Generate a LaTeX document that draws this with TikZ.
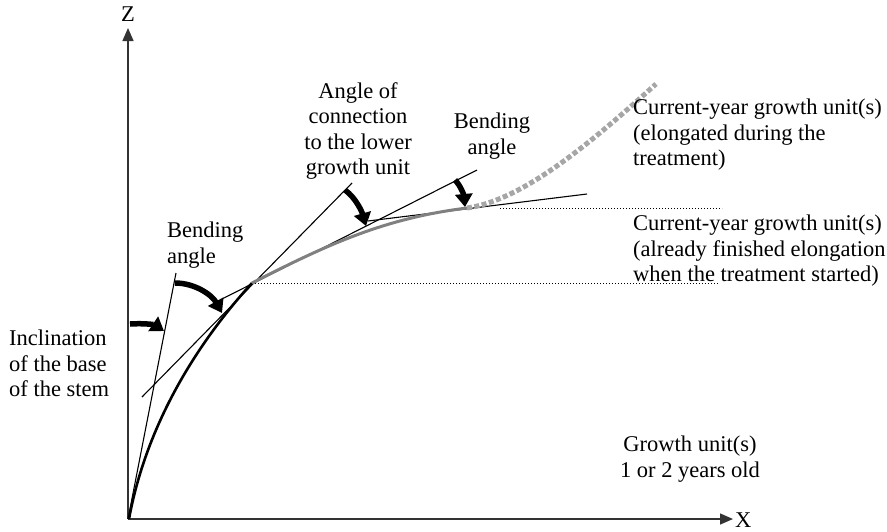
\documentclass[tikz,border=0pt]{standalone}
\usepackage{fontspec}
\setmainfont{Liberation Serif}
\usetikzlibrary{arrows.meta}
\begin{document}
\begin{tikzpicture}[x=1pt,y=-1pt,
  lbl/.style={inner sep=0pt, font=\fontsize{22.5}{25.5}\selectfont},
  axis/.style={draw=black!80, line width=1.4pt, -{Triangle[length=13pt,width=11pt]}},
  thinline/.style={line width=1.1pt},
  bigarrow/.style={line width=5.5pt, -{Triangle[length=13pt,width=17pt]}},
  guide/.style={line width=0.8pt, dash pattern=on 1pt off 2pt},
  stemold/.style={line width=2.6pt},
  stemcur/.style={draw=black!50, line width=3pt},
  stemnew/.style={draw=black!35, line width=5pt, dash pattern=on 5pt off 2.5pt}
]
\useasboundingbox (0,0) rectangle (887,531);
% key points
\coordinate (O) at (128,519);
\coordinate (S) at (129,519);
\coordinate (Ztip) at (128,28);
\coordinate (Xtip) at (733,519);
\coordinate (J1) at (252,283);
\coordinate (J2) at (467,208);
\coordinate (T) at (656,84);
% axes
\draw[axis] (O) -- (Ztip);
\draw[axis] (O) -- (Xtip);
\node[lbl] (Z) at (128,14) {Z};
\node[lbl, anchor=west] (X) at (735,520) {X};
% tangent lines
\coordinate (L1b) at (176,273);
\coordinate (L2a) at (142,397);
\coordinate (L2b) at (352,183);
\coordinate (L3a) at (222,299);
\coordinate (L3b) at (477,170);
\coordinate (L4a) at (368,221);
\coordinate (L4b) at (587,194);
\draw[thinline] (O) -- (L1b);
\draw[thinline] (L2a) -- (L2b);
\draw[thinline] (L3a) -- (L3b);
\draw[thinline] (L4a) -- (L4b);
% horizontal guides
\coordinate (G1) at (718,283);
\coordinate (G2a) at (500,208);
\coordinate (G2b) at (722,208);
\draw[guide] (J1) -- (G1);
\draw[guide] (G2a) -- (G2b);
% stem
\draw[stemold] (S) .. controls (147,421) and (200,340) .. (J1);
\draw[stemcur] (J1) .. controls (332,242) and (387,218) .. (J2);
\draw[stemnew] (J2) .. controls (525,200) and (596,138) .. (T);
% angle arrows
\coordinate (A1s) at (130,324);
\coordinate (A1e) at (164,331);
\coordinate (A2s) at (175,283);
\coordinate (A2e) at (222,313);
\coordinate (A3s) at (345,190);
\coordinate (A3e) at (366,226);
\coordinate (A4s) at (455,180);
\coordinate (A4e) at (465,207);
\draw[bigarrow] (A1s) .. controls (145,323) and (155,325) .. (A1e);
\draw[bigarrow] (A2s) .. controls (195,283) and (212,295) .. (A2e);
\draw[bigarrow] (A3s) .. controls (356,198) and (362,212) .. (A3e);
\draw[bigarrow] (A4s) .. controls (461,186) and (464,196) .. (A4e);
% labels
\node[lbl, anchor=north, align=center] (conn) at (358,82) {Angle of\\connection\\to the lower\\growth unit};
\node[lbl, anchor=north, align=center] (bend2) at (492,113) {Bending\\angle};
\node[lbl, anchor=north west, align=left] (bend1) at (167,222) {Bending\\angle};
\node[lbl, anchor=north west, align=left] (incl) at (9,330) {Inclination\\of the base\\of the stem};
\node[lbl, anchor=north west, align=left] (cur1) at (633,99) {Current-year growth unit(s)\\(elongated during the\\treatment)};
\node[lbl, anchor=north west, align=left] (cur2) at (633,215) {Current-year growth unit(s)\\(already finished elongation\\when the treatment started)};
\node[lbl, anchor=north, align=center] (old) at (690,436) {Growth unit(s)\\1 or 2 years old};
\end{tikzpicture}
\end{document}
